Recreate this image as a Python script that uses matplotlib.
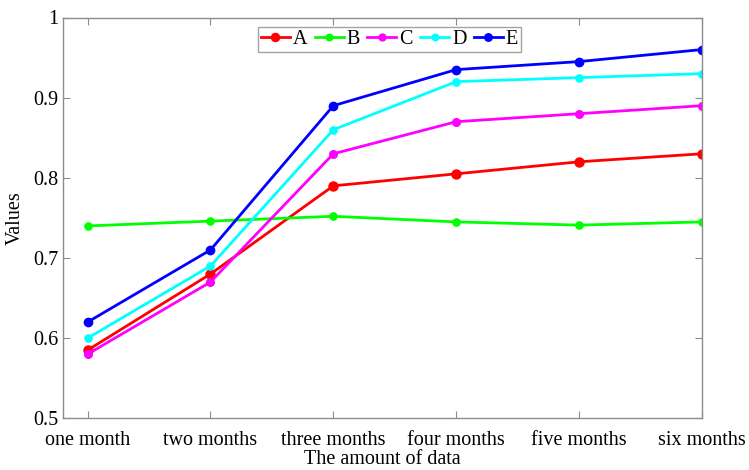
import matplotlib.pyplot as plt

plt.rcParams['font.family'] = ['Liberation Serif', 'DejaVu Serif']

months = ['one month', 'two months', 'three months', 'four months', 'five months', 'six months']
a_vals = [0.585, 0.680, 0.790, 0.805, 0.820, 0.830]
b_vals = [0.740, 0.746, 0.752, 0.745, 0.741, 0.745]
c_vals = [0.580, 0.670, 0.830, 0.870, 0.880, 0.890]
d_vals = [0.600, 0.690, 0.860, 0.920, 0.925, 0.930]
e_vals = [0.620, 0.710, 0.890, 0.935, 0.945, 0.960]

series = [('A', a_vals, '#ff0000', 6.5),
          ('B', b_vals, '#00ff00', 5.2),
          ('C', c_vals, '#ff00ff', 5.5),
          ('D', d_vals, '#00ffff', 5.2),
          ('E', e_vals, '#0000ff', 6)]

fig = plt.figure(figsize=(7.49, 4.70), dpi=100)
ax = fig.add_axes([63 / 749, 1 - 418.3 / 470, (702 - 63) / 749, (418.3 - 17.5) / 470])

x = list(range(1, len(months) + 1))
for name, vals, col, ms in series:
    ax.plot(x, vals, '-o', color=col, lw=2.0, ms=ms, label=name)

ax.set_xlim(0.8, 6)
ax.set_ylim(0.5, 1)
ax.set_xticks(x)
ax.set_xticklabels(months)
ax.set_yticks([0.5, 0.6, 0.7, 0.8, 0.9, 1])
ax.set_yticklabels(['0.5', '0.6', '0.7', '0.8', '0.9', '1'])
ax.tick_params(direction='in', top=True, right=True, length=5, width=0.8,
               color='#8c8c8c', labelsize=14.5, pad=3)
ax.tick_params(axis='x', pad=9)
for s in ax.spines.values():
    s.set_color('#8c8c8c')
    s.set_linewidth(1.0)

ax.set_xlabel('The amount of data', fontsize=14.5, labelpad=0)
ax.set_ylabel('Values', fontsize=14.5, labelpad=6)

leg = ax.legend(ncol=5, loc='upper center', bbox_to_anchor=(389.5 / 749, 1 - 27 / 470),
                bbox_transform=fig.transFigure, fontsize=14.5, frameon=True, fancybox=False,
                handlelength=1.45, handletextpad=0.15, columnspacing=0.35, borderpad=0.15,
                borderaxespad=0, markerscale=0.9)
leg.get_frame().set_edgecolor('#8c8c8c')
leg.get_frame().set_linewidth(1.0)

fig.savefig('out.png', dpi=100)
